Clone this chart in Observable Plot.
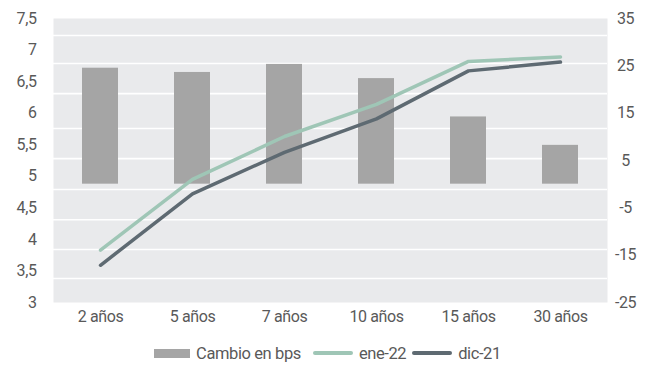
<!DOCTYPE html>
<html>
<head>
<meta charset="utf-8">
<script src="https://cdn.jsdelivr.net/npm/d3@7"></script>
<script src="https://cdn.jsdelivr.net/npm/@observablehq/plot@0.6"></script>
<style>
  body { margin: 0; background: #fff; font-family: Roboto, sans-serif; }
  #chart svg { display: block; }
  #chart svg text { letter-spacing: -0.4px; }
  .legend { display: flex; justify-content: center; align-items: center; height: 26px; font-size: 16.5px; letter-spacing: -0.4px; color: #595959; font-family: Roboto, sans-serif; margin-left: 8px; }
  .legend .item { display: flex; align-items: center; margin-right: 6px; }
  .legend .sw-bar { width: 36px; height: 9px; background: #a5a5a5; margin-right: 6px; }
  .legend .sw-line { width: 40px; height: 4px; border-radius: 2px; margin-right: 6px; }
</style>
</head>
<body>
<div id="chart"></div>
<div class="legend">
  <div class="item"><div class="sw-bar"></div><span>Cambio en bps</span></div>
  <div class="item" style="margin-left:6px"><div class="sw-line" style="background:#9fc6b6"></div><span>ene-22</span></div>
  <div class="item"><div class="sw-line" style="background:#5e6a72"></div><span>dic-21</span></div>
</div>
<script>
const categories = ["2 años", "5 años", "7 años", "10 años", "15 años", "30 años"];
const cambioBps = [24.5, 23.6, 25.3, 22.3, 14.2, 8.2];
const ene22 = [3.83, 4.95, 5.63, 6.14, 6.82, 6.89];
const dic21 = [3.59, 4.72, 5.38, 5.91, 6.67, 6.81];
const leftTicks = [3, 3.5, 4, 4.5, 5, 5.5, 6, 6.5, 7, 7.5];
const rightTicks = [-25, -15, -5, 5, 15, 25, 35];
const gridValues = [3.38, 3.84, 4.31, 4.79, 5.28, 5.757, 6.31, 6.787, 7.23];

const L0 = 3, L1 = 7.5, R0 = -25, R1 = 35;
const toLeft = v => L0 + (v - R0) / (R1 - R0) * (L1 - L0);
const fromLeft = v => R0 + (v - L0) / (L1 - L0) * (R1 - R0);

const bars = categories.map((c, i) => ({cat: c, y1: toLeft(0), y2: toLeft(cambioBps[i])}));
const lineE = categories.map((c, i) => ({cat: c, v: ene22[i]}));
const lineD = categories.map((c, i) => ({cat: c, v: dic21[i]}));

const fmtL = d => String(d).replace(".", ",");

const chart = Plot.plot({
  width: 653,
  height: 340,
  marginTop: 18,
  marginBottom: 38,
  marginLeft: 53,
  marginRight: 46,
  style: { fontFamily: "Roboto, sans-serif", fontSize: "16px", color: "#595959", background: "#fff" },
  x: { type: "band", domain: categories, paddingInner: 0.61, paddingOuter: 0.305 },
  y: { domain: [L0, L1] },
  marks: [
    Plot.frame({ fill: "#e9eaec", stroke: null }),
    Plot.ruleY(gridValues, { stroke: "#ffffff", strokeWidth: 1.6 }),
    Plot.barY(bars, { x: "cat", y1: "y1", y2: "y2", fill: "#a5a5a5" }),
    Plot.lineY(lineE, { x: "cat", y: "v", stroke: "#9fc6b6", strokeWidth: 3.5, strokeLinecap: "round", strokeLinejoin: "round" }),
    Plot.lineY(lineD, { x: "cat", y: "v", stroke: "#5e6a72", strokeWidth: 3.5, strokeLinecap: "round", strokeLinejoin: "round" }),
    Plot.axisY(leftTicks, { anchor: "left", tickSize: 0, tickPadding: 17, tickFormat: fmtL, label: null, fill: "#595959" }),
    Plot.axisY(rightTicks.map(toLeft), { anchor: "right", tickSize: 0, tickPadding: 18, tickFormat: v => String(Math.round(fromLeft(v))), label: null, textAnchor: "middle", fill: "#595959" }),
    Plot.axisX({ anchor: "bottom", tickSize: 0, tickPadding: 8, label: null, fill: "#595959" })
  ]
});
document.getElementById("chart").appendChild(chart);
</script>
</body>
</html>
